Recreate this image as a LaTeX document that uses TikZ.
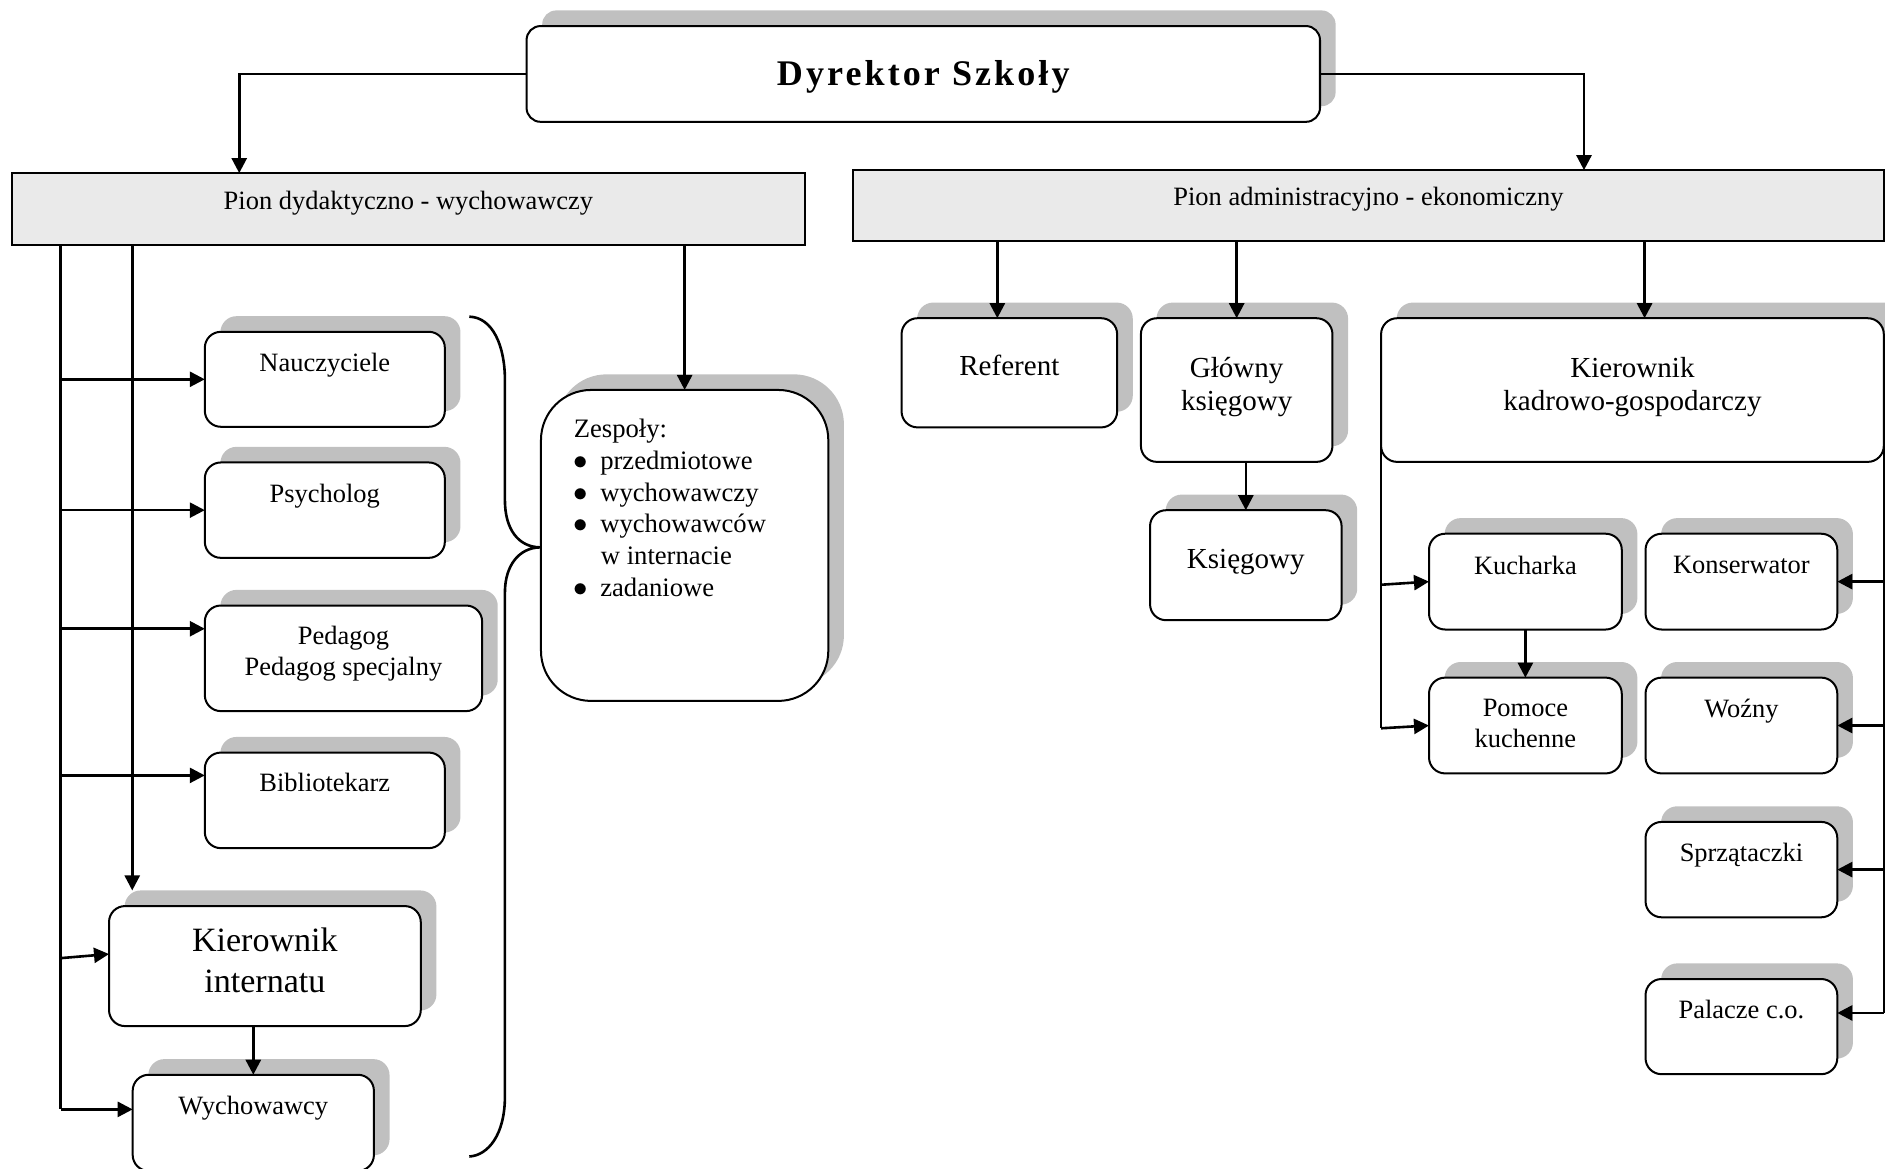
\documentclass[tikz,border=0pt]{standalone}
\usepackage{fontspec}
\setmainfont{Liberation Serif}
\usepackage{tikz}
\usetikzlibrary{arrows.meta,shadows}
\usepackage{xcolor}
\definecolor{shadowgray}{HTML}{C0C0C0}
\definecolor{piongray}{HTML}{EAEAEA}
\begin{document}
\begin{tikzpicture}[x=0.6pt,y=-0.6pt,
  box/.style={draw,line width=1pt,fill=white,rounded corners=8pt,inner sep=0pt,outer sep=0pt,
    general shadow={fill=shadowgray,shadow xshift=7.8pt,shadow yshift=7.8pt}},
  pion/.style={draw,line width=1pt,fill=piongray,inner sep=0pt,outer sep=0pt},
  sz/.style 2 args={minimum width=#1,minimum height=#2},
  lb/.style={anchor=center,yshift=-#1*0.6pt},
  every label/.style={inner sep=0pt,align=center,font=\fontsize{13.2}{15.6}\selectfont},
  big/.style={font=\fontsize{14.5}{16.6}\selectfont},
  arr/.style={line width=1.3pt,-{Triangle[length=7.5pt,width=7.5pt]}},
  link/.style={line width=1.3pt}]
  \useasboundingbox (0,0) rectangle (1568,971.6);
  % dyrektor i piony
  \node[box,rounded corners=7pt,sz={396pt}{47.8pt},text height=13pt,text depth=1.2pt,
    font=\fontsize{18}{21}\selectfont\bfseries\addfontfeature{LetterSpace=8.5}] (dyr) at (768,61.5) {Dyrektor Szkoły};
  \node[pion,sz={395.7pt}{36pt},label={[lb=24.6]north:Pion dydaktyczno - wychowawczy}] (pdyd) at (339.75,174) {};
  \node[pion,sz={514.4pt}{35.6pt},label={[lb=24.3]north:Pion administracyjno - ekonomiczny}] (padm) at (1138.3,171.2) {};
  % pion dydaktyczno - wychowawczy
  \node[box,sz={119.8pt}{47.4pt},label={[lb=28]north:Nauczyciele}] (naucz) at (270.2,315.5) {};
  \node[box,sz={119.8pt}{47.6pt},label={[lb=27.7]north:Psycholog}] (psych) at (270.2,424.35) {};
  \node[box,sz={138.4pt}{52.7pt},label={[lb=40.3]north:Pedagog\\Pedagog specjalny}] (pedag) at (285.7,547.6) {};
  \node[box,sz={119.8pt}{47.7pt},label={[lb=25]north:Bibliotekarz}] (biblio) at (270.2,665.75) {};
  \node[box,sz={155.6pt}{59.9pt},label={[lb=45.3,font=\fontsize{17}{20.2}\selectfont]north:Kierownik\\internatu}] (kint) at (220.35,803.6) {};
  \node[box,sz={120.4pt}{48pt},label={[lb=27.5]north:Wychowawcy}] (wych) at (210.7,934) {};
  \node[box,rounded corners=25pt,sz={143.4pt}{155.2pt},
    label={[anchor=west,xshift=16.2pt,yshift=-58.8pt,align=left,font=\fontsize{13.3}{15.8}\selectfont]north west:{Zespoły:\\
      $\bullet$\hspace{6pt}przedmiotowe\\
      $\bullet$\hspace{6pt}wychowawczy\\
      $\bullet$\hspace{6pt}wychowawców\\
      \hspace{13.5pt}w internacie\\
      $\bullet$\hspace{6pt}zadaniowe}}] (zesp) at (569.5,453.7) {};
  % pion administracyjno - ekonomiczny
  \node[box,sz={107.6pt}{54.5pt},label={[lb=39.4,big]north:Referent}] (ref) at (839.6,310.1) {};
  \node[box,sz={95.6pt}{71.7pt},label={[lb=57.5,big]north:Główny\\księgowy}] (gk) at (1028.7,324.45) {};
  \node[box,sz={95.6pt}{54.9pt},label={[lb=43,big]north:Księgowy}] (ks) at (1036.3,470.15) {};
  \node[box,sz={250.9pt}{71.7pt},label={[lb=57.5,big]north:Kierownik\\kadrowo-gospodarczy}] (kkg) at (1357.9,324.45) {};
  \node[box,sz={96.2pt}{47.8pt},label={[lb=26]north:Kucharka}] (kuch) at (1268.85,483.8) {};
  \node[box,sz={96.2pt}{47.8pt},label={[lb=38]north:Pomoce\\kuchenne}] (pom) at (1268.85,603.5) {};
  \node[box,sz={95.7pt}{47.8pt},label={[lb=26.3]north:Konserwator}] (kons) at (1448.55,483.8) {};
  \node[box,sz={95.7pt}{47.8pt},label={[lb=27.5]north:Woźny}] (wozny) at (1448.55,603.5) {};
  \node[box,sz={95.7pt}{47.6pt},label={[lb=28]north:Sprzątaczki}] (sprz) at (1448.55,723.35) {};
  \node[box,sz={95.7pt}{47.5pt},label={[lb=25.4]north:Palacze c.o.}] (pal) at (1448.55,853.95) {};
  % polaczenia
  \draw[arr] (dyr.west) -| (pdyd.north -| 199,0);
  \draw[arr] (dyr.east) -| (padm.north -| 1317.6,0);
  \draw[link] (pdyd.south -| 50.4,0) -- (50.4,922.8);
  \draw[arr] (naucz.west -| 50.4,0) -- (naucz.west);
  \draw[arr] (psych.west -| 50.4,0) -- (psych.west);
  \draw[arr] (50.4,523) -- (pedag.west |- 0,523);
  \draw[arr] (50.4,645) -- (biblio.west |- 0,645);
  \draw[arr] (50.4,797) -- ([yshift=6pt]kint.west);
  \draw[arr] (50.4,922.8) -- (wych.west |- 0,922.8);
  \draw[arr] (pdyd.south -| 110,0) -- ([yshift=7.8pt]kint.north -| 110,0);
  \draw[arr] (kint.south -| wych.north) -- (wych.north);
  \draw[arr] (pdyd.south -| zesp.north) -- (zesp.north);
  % klamra
  \draw[link] (390.4,263.4) .. controls (410,264) and (420,288) .. (420,316)
    -- (420,416) .. controls (420,440) and (431,455) .. (449.2,455.3)
    .. controls (432,455.6) and (420,470) .. (420,493)
    -- (420,912) .. controls (420,944) and (406,961) .. (390.4,962);
  \draw[arr] (padm.south -| 829.6,0) -- (ref.north -| 829.6,0);
  \draw[arr] (padm.south -| gk.north) -- (gk.north);
  \draw[arr] (padm.south -| 1368,0) -- (kkg.north -| 1368,0);
  \draw[arr] (gk.south -| ks.north) -- (ks.north);
  \draw[link] (kkg.west) -- (kkg.west |- 0,605.8);
  \draw[arr] (kkg.west |- 0,486.4) -- (kuch.west);
  \draw[arr] (kkg.west |- 0,605.8) -- (pom.west);
  \draw[arr] (kuch.south) -- (pom.north);
  \draw[link] (kkg.east) -- (kkg.east |- 0,842.6);
  \draw[arr] (kkg.east |- kons.east) -- (kons.east);
  \draw[arr] (kkg.east |- wozny.east) -- (wozny.east);
  \draw[arr] (kkg.east |- sprz.east) -- (sprz.east);
  \draw[arr] (kkg.east |- 0,842.6) -- (pal.east |- 0,842.6);
\end{tikzpicture}
\end{document}
